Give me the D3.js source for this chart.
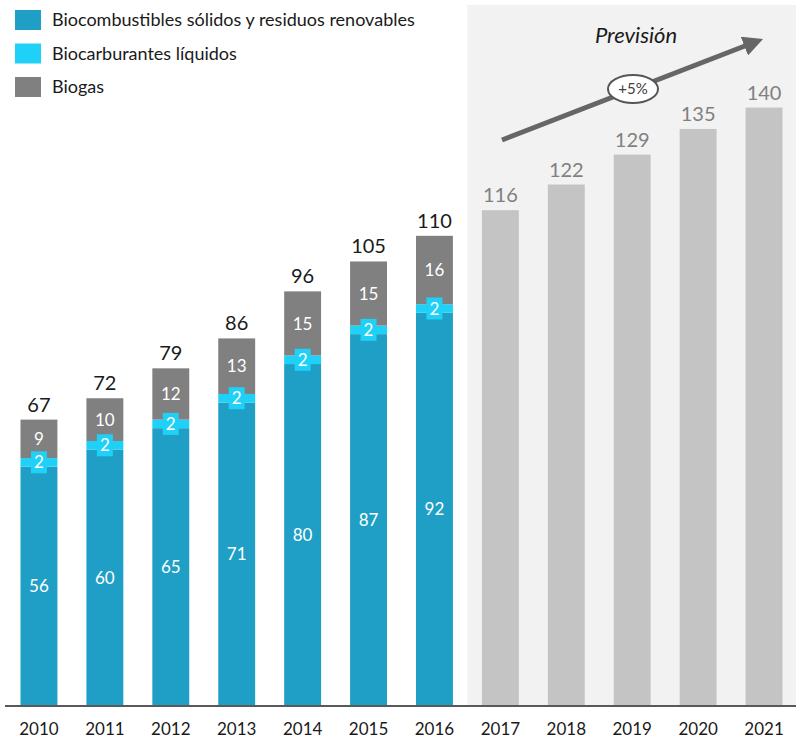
<!DOCTYPE html>
<html>
<head>
<meta charset="utf-8">
<script src="https://cdn.jsdelivr.net/npm/d3@7"></script>
<style>
  body { margin: 0; background: #fff; }
  text { font-family: Lato, "Open Sans", sans-serif; }
</style>
</head>
<body>
<div id="chart"></div>
<script>
// historic years (stacked) and forecast years (total only)
var years = ["2010", "2011", "2012", "2013", "2014", "2015", "2016"];
var solidos = [56, 60, 65, 71, 80, 87, 92];
var liquidos = [2, 2, 2, 2, 2, 2, 2];
var biogas = [9, 10, 12, 13, 15, 15, 16];
var totals = [67, 72, 79, 86, 96, 105, 110];

var forecastYears = ["2017", "2018", "2019", "2020", "2021"];
var forecastValues = [116, 122, 129, 135, 140];

var seriesNames = ["Biocombustibles sólidos y residuos renovables", "Biocarburantes líquidos", "Biogas"];
var seriesColors = ["#1f9fc6", "#1fd0f7", "#808080"];

(function() {
    var width = 796, height = 740;
    var svg = d3.select("#chart").append("svg")
        .attr("width", width)
        .attr("height", height);

    var allYears = years.concat(forecastYears);

    var x = d3.scaleBand()
        .domain(allYears)
        .range([6, 797])
        .paddingInner(0.44)
        .paddingOuter(0.22);

    var y = d3.scaleLinear()
        .domain([0, 164])
        .range([706, 5]);

    // forecast shaded background
    var bgLeft = (x(years[years.length - 1]) + x.bandwidth() + x(forecastYears[0])) / 2;
    svg.append("rect")
        .attr("x", bgLeft)
        .attr("y", y(164))
        .attr("width", width - bgLeft)
        .attr("height", y(0) - y(164))
        .attr("fill", "#f2f2f2");

    // stacked data
    var rows = years.map(function(yr, i) {
        return {year: yr, s0: solidos[i], s1: liquidos[i], s2: biogas[i], total: totals[i]};
    });
    var stack = d3.stack().keys(["s0", "s1", "s2"]);
    var layers = stack(rows);

    svg.selectAll(".layer")
        .data(layers)
        .enter().append("g")
        .attr("fill", function(d, i) { return seriesColors[i]; })
        .selectAll("rect")
        .data(function(d) { return d; })
        .enter().append("rect")
        .attr("x", function(d) { return x(d.data.year); })
        .attr("y", function(d) { return y(d[1]); })
        .attr("width", x.bandwidth())
        .attr("height", function(d) { return y(d[0]) - y(d[1]); });

    // forecast bars
    svg.selectAll(".fbar")
        .data(forecastValues)
        .enter().append("rect")
        .attr("x", function(d, i) { return x(forecastYears[i]); })
        .attr("y", function(d) { return y(d); })
        .attr("width", x.bandwidth())
        .attr("height", function(d) { return y(0) - y(d); })
        .attr("fill", "#c4c4c4");

    // inner labels for solid and biogas
    [0, 2].forEach(function(k) {
        svg.append("g").selectAll("text")
            .data(layers[k])
            .enter().append("text")
            .attr("x", function(d) { return x(d.data.year) + x.bandwidth() / 2; })
            .attr("y", function(d) { return (y(d[0]) + y(d[1])) / 2; })
            .attr("dy", "0.36em")
            .attr("text-anchor", "middle")
            .attr("font-size", 17)
            .attr("fill", "#fff")
            .text(function(d) { return d[1] - d[0]; });
    });

    // liquid labels with a boxed background
    var liq = svg.append("g").selectAll("g")
        .data(layers[1])
        .enter().append("g")
        .attr("transform", function(d) {
            return "translate(" + (x(d.data.year) + x.bandwidth() / 2) + "," + ((y(d[0]) + y(d[1])) / 2) + ")";
        });
    liq.append("rect")
        .attr("x", -8).attr("y", -11)
        .attr("width", 16).attr("height", 22)
        .attr("fill", seriesColors[1]);
    liq.append("text")
        .attr("text-anchor", "middle")
        .attr("dy", "0.36em")
        .attr("font-size", 17)
        .attr("fill", "#fff")
        .text(function(d) { return d[1] - d[0]; });

    // totals
    svg.append("g").selectAll("text")
        .data(rows)
        .enter().append("text")
        .attr("x", function(d) { return x(d.year) + x.bandwidth() / 2; })
        .attr("y", function(d) { return y(d.s0 + d.s1 + d.s2) - 8; })
        .attr("text-anchor", "middle")
        .attr("font-size", 20)
        .attr("fill", "#1a1a1a")
        .text(function(d) { return d.total; });

    svg.append("g").selectAll("text")
        .data(forecastValues)
        .enter().append("text")
        .attr("x", function(d, i) { return x(forecastYears[i]) + x.bandwidth() / 2; })
        .attr("y", function(d) { return y(d) - 8; })
        .attr("text-anchor", "middle")
        .attr("font-size", 20)
        .attr("fill", "#808080")
        .text(function(d) { return d; });

    // x axis
    var xAxis = svg.append("g")
        .attr("transform", "translate(0," + y(0) + ")")
        .call(d3.axisBottom(x).tickSize(0).tickPadding(17));
    xAxis.select(".domain").remove();
    xAxis.selectAll("text")
        .attr("font-size", 17)
        .attr("fill", "#1a1a1a")
        .style("font-family", "Lato, sans-serif");
    svg.append("line")
        .attr("x1", 5).attr("x2", 796)
        .attr("y1", y(0)).attr("y2", y(0))
        .attr("stroke", "#595959")
        .attr("stroke-width", 2);

    // trend arrow
    var defs = svg.append("defs");
    defs.append("marker")
        .attr("id", "arrow")
        .attr("viewBox", "0 0 10 10")
        .attr("refX", 3).attr("refY", 5)
        .attr("markerWidth", 4).attr("markerHeight", 4)
        .attr("orient", "auto")
        .append("path")
        .attr("d", "M0,0 L10,5 L0,10 Z")
        .attr("fill", "#666");

    svg.append("line")
        .attr("x1", 502).attr("y1", 140)
        .attr("x2", 750).attr("y2", 44)
        .attr("stroke", "#666")
        .attr("stroke-width", 5)
        .attr("marker-end", "url(#arrow)");

    svg.append("ellipse")
        .attr("cx", 633).attr("cy", 89)
        .attr("rx", 25).attr("ry", 14)
        .attr("fill", "#fff")
        .attr("stroke", "#555")
        .attr("stroke-width", 2);
    svg.append("text")
        .attr("x", 633).attr("y", 89)
        .attr("dy", "0.36em")
        .attr("text-anchor", "middle")
        .attr("font-size", 15)
        .attr("fill", "#404040")
        .text("+5%");

    svg.append("text")
        .attr("x", 636).attr("y", 43)
        .attr("text-anchor", "middle")
        .attr("font-size", 22)
        .attr("font-style", "italic")
        .attr("fill", "#1a1a1a")
        .text("Previsión");

    // legend
    var legend = svg.append("g").selectAll("g")
        .data(seriesNames)
        .enter().append("g")
        .attr("transform", function(d, i) { return "translate(15," + (10 + i * 33.5) + ")"; });
    legend.append("rect")
        .attr("width", 26).attr("height", 20)
        .attr("fill", function(d, i) { return seriesColors[i]; });
    legend.append("text")
        .attr("x", 37).attr("y", 10)
        .attr("dy", "0.36em")
        .attr("font-size", 18)
        .attr("fill", "#1a1a1a")
        .text(function(d) { return d; });
})();
</script>
</body>
</html>
